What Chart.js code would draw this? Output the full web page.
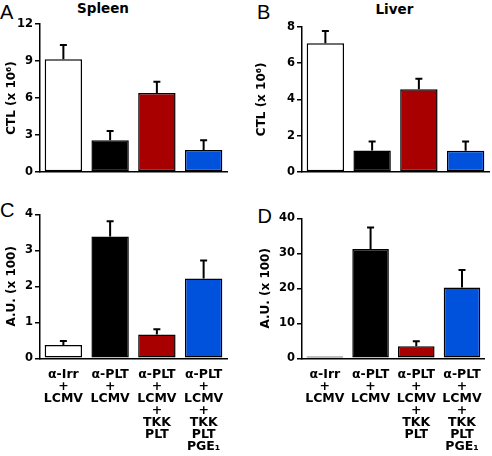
<!DOCTYPE html>
<html>
<head>
<meta charset="utf-8">
<script src="https://cdn.jsdelivr.net/npm/chart.js@4"></script>
<style>
  html, body { margin:0; padding:0; background:#fff; }
  body { width:492px; height:456px; position:relative; overflow:hidden; }
  canvas { position:absolute; }
  .lt { position:absolute; font-family:'Liberation Sans', Arial, sans-serif; font-size:20px; line-height:1; color:#000; }
  .tt { position:absolute; font-family:'DejaVu Sans', sans-serif; font-weight:bold; font-size:13.5px; line-height:1; color:#000; }
</style>
</head>
<body>
<div class="lt" style="left:0px;top:2px;">A</div>
<div class="lt" style="left:257px;top:2px;">B</div>
<div class="lt" style="left:0px;top:200px;">C</div>
<div class="lt" style="left:257.5px;top:206px;">D</div>
<div class="tt" style="left:77px;top:2px;">Spleen</div>
<div class="tt" style="left:375.5px;top:2.5px;">Liver</div>
<canvas id="cA" width="246" height="190" style="left:0;top:0"></canvas>
<canvas id="cB" width="246" height="190" style="left:246px;top:0"></canvas>
<canvas id="cC" width="246" height="266" style="left:0;top:190px"></canvas>
<canvas id="cD" width="246" height="266" style="left:246px;top:190px"></canvas>
<script>
// ---- data ----
const categories = [
  ["α-Irr", "+", "LCMV"],
  ["α-PLT", "+", "LCMV"],
  ["α-PLT", "+", "LCMV", "+", "TKK", "PLT"],
  ["α-PLT", "+", "LCMV", "+", "TKK", "PLT", "PGE₁"]
];
const barColors = ["#ffffff", "#000000", "#a80000", "#0052dc"];

const spleenCTL = [9.14, 2.57, 6.40, 1.79];
const spleenCTLErr = [1.16, 0.75, 0.92, 0.78];
const spleenTicks = [0, 3, 6, 9, 12];

const liverCTL = [7.09, 1.19, 4.56, 1.17];
const liverCTLErr = [0.67, 0.49, 0.57, 0.51];
const liverTicks = [0, 2, 4, 6, 8];

const spleenAU = [0.37, 3.38, 0.66, 2.22];
const spleenAUErr = [0.11, 0.43, 0.15, 0.50];
const spleenAUTicks = [0, 1, 2, 3, 4];

const liverAU = [0.5, 31.2, 3.43, 20.2];
const liverAUErr = [0, 6.2, 1.43, 5.0];
const liverAUTicks = [0, 10, 20, 30, 40];

const yTitleCTL = "CTL (x 10⁶)";
const yTitleAU = "A.U. (x 100)";

// ---- drawing ----
const FONT = "'DejaVu Sans', sans-serif";

const errorBarPlugin = {
  id: 'errorBars',
  afterDatasetsDraw(chart) {
    const ctx = chart.ctx;
    const yScale = chart.scales.y;
    chart.data.datasets.forEach((ds, di) => {
      const meta = chart.getDatasetMeta(di);
      meta.data.forEach((bar, i) => {
        const e = ds.errors[i];
        if (!e) return;
        const yTop = yScale.getPixelForValue(ds.data[i] + e);
        ctx.save();
        ctx.strokeStyle = '#000';
        ctx.lineWidth = 2;
        ctx.beginPath();
        ctx.moveTo(bar.x, bar.y);
        ctx.lineTo(bar.x, yTop);
        ctx.moveTo(bar.x - 3.5, yTop);
        ctx.lineTo(bar.x + 3.5, yTop);
        ctx.stroke();
        ctx.restore();
      });
    });
  }
};

function makeChart(id, values, errors, ticks, yTitle, o) {
  const yMax = ticks[ticks.length - 1];
  const step = ticks[1] - ticks[0];
  return new Chart(document.getElementById(id), {
    type: 'bar',
    data: {
      labels: categories,
      datasets: [{
        data: values,
        errors: errors,
        backgroundColor: barColors,
        borderColor: '#000',
        borderWidth: 1.5,
        borderSkipped: false,
        categoryPercentage: 1.0,
        barPercentage: 0.8
      }]
    },
    options: {
      responsive: false,
      animation: false,
      devicePixelRatio: 1,
      layout: { padding: { top: o.top, right: o.right, left: 0, bottom: 0 } },
      plugins: { legend: { display: false }, tooltip: { enabled: false }, title: { display: false } },
      scales: {
        x: {
          grid: { display: false, drawTicks: false },
          border: { display: true, color: '#000', width: 1.5 },
          ticks: {
            display: o.showX,
            color: '#000',
            padding: 10,
            maxRotation: 0,
            autoSkip: false,
            font: { family: FONT, weight: 'bold', size: 12.5, lineHeight: 0.97 }
          },
          afterFit(s) { s.height = o.xh; }
        },
        y: {
          min: 0,
          max: yMax,
          grid: { display: true, drawOnChartArea: false, drawTicks: true, tickLength: 5, color: '#000', lineWidth: 1.5 },
          border: { display: true, color: '#000', width: 1.5 },
          ticks: {
            stepSize: step,
            color: '#000',
            padding: 2,
            font: { family: FONT, weight: 'bold', size: 11.5 }
          },
          title: {
            display: true,
            text: yTitle,
            color: '#000',
            padding: { top: o.tp, bottom: 0 },
            font: { family: FONT, weight: 'bold', size: 12, lineHeight: 1.0 }
          },
          afterFit(s) { s.width = o.yw; }
        }
      }
    },
    plugins: [errorBarPlugin]
  });
}

makeChart('cA', spleenCTL, spleenCTLErr, spleenTicks, yTitleCTL,
  { top: 24, right: 19, xh: 18, yw: 40, tp: 6, showX: false });
makeChart('cB', liverCTL, liverCTLErr, liverTicks, yTitleCTL,
  { top: 26.7, right: 3, xh: 18, yw: 56, tp: 10, showX: false });
makeChart('cC', spleenAU, spleenAUErr, spleenAUTicks, yTitleAU,
  { top: 24.3, right: 19, xh: 97.7, yw: 40, tp: 6, showX: true });
makeChart('cD', liverAU, liverAUErr, liverAUTicks, yTitleAU,
  { top: 28.3, right: 3, xh: 97.7, yw: 56, tp: 14, showX: true });
</script>
</body>
</html>
